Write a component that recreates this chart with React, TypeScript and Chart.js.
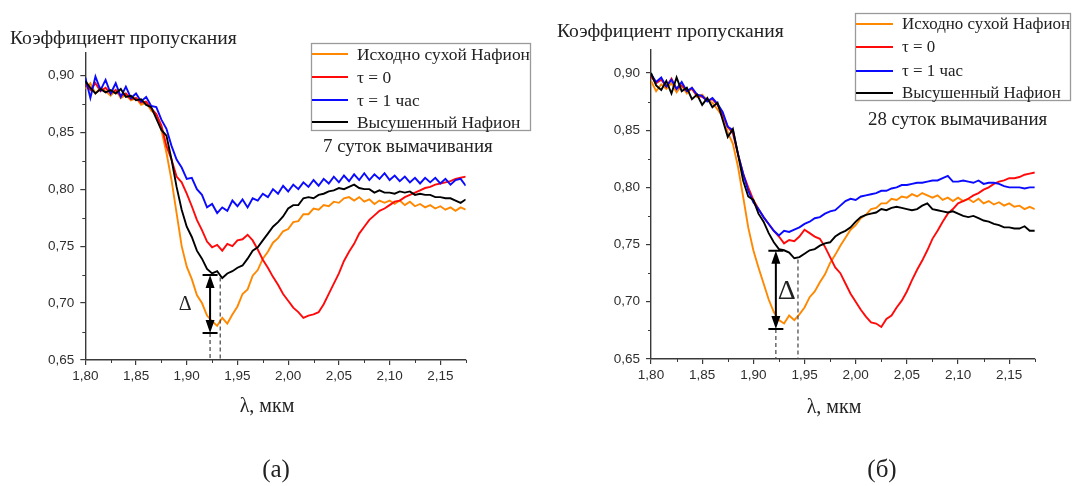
import React, { useEffect, useRef } from "react";
import { Chart, registerables } from "chart.js";

Chart.register(...registerables);

// Wavelength grid, мкм
const WAVELENGTH = [
  1.8, 1.805, 1.81, 1.815, 1.82, 1.825, 1.83, 1.835, 1.84, 1.845,
  1.85, 1.855, 1.86, 1.865, 1.87, 1.875, 1.88, 1.885, 1.89, 1.895,
  1.9, 1.905, 1.91, 1.915, 1.92, 1.925, 1.93, 1.935, 1.94, 1.945,
  1.95, 1.955, 1.96, 1.965, 1.97, 1.975, 1.98, 1.985, 1.99, 1.995,
  2.0, 2.005, 2.01, 2.015, 2.02, 2.025, 2.03, 2.035, 2.04, 2.045,
  2.05, 2.055, 2.06, 2.065, 2.07, 2.075, 2.08, 2.085, 2.09, 2.095,
  2.1, 2.105, 2.11, 2.115, 2.12, 2.125, 2.13, 2.135, 2.14, 2.145,
  2.15, 2.155, 2.16, 2.165, 2.17, 2.175,
];

// (а) 7 суток вымачивания
const A_DRY = [
  0.888, 0.893, 0.884, 0.889, 0.886, 0.882, 0.887, 0.88, 0.883, 0.878,
  0.88, 0.874, 0.876, 0.869, 0.865, 0.852, 0.832, 0.808, 0.779, 0.75,
  0.732, 0.721, 0.707, 0.7, 0.689, 0.684, 0.68, 0.687, 0.682, 0.69,
  0.697, 0.708, 0.712, 0.724, 0.729, 0.739, 0.745, 0.753, 0.757, 0.763,
  0.765, 0.771, 0.772, 0.778, 0.778, 0.783, 0.782, 0.786, 0.785, 0.789,
  0.788, 0.792, 0.793, 0.79, 0.793, 0.789, 0.791, 0.787, 0.79, 0.788,
  0.79, 0.787, 0.79, 0.786, 0.789, 0.785, 0.787, 0.784, 0.786, 0.783,
  0.785, 0.782, 0.784, 0.781, 0.784, 0.782,
];
const A_T0 = [
  0.892, 0.887, 0.893, 0.886, 0.889, 0.884, 0.887, 0.882, 0.884, 0.879,
  0.88, 0.876, 0.877, 0.871, 0.866, 0.856, 0.838, 0.826, 0.811, 0.806,
  0.796, 0.785, 0.773, 0.764, 0.754, 0.749, 0.751, 0.746, 0.752, 0.75,
  0.755, 0.756, 0.76, 0.755, 0.747, 0.738, 0.731, 0.723, 0.716, 0.708,
  0.702, 0.696, 0.692, 0.687, 0.689, 0.69, 0.692, 0.699, 0.708, 0.717,
  0.726, 0.737, 0.745, 0.752, 0.761, 0.767, 0.773, 0.777, 0.781, 0.783,
  0.786, 0.789, 0.79, 0.793, 0.795, 0.797, 0.799, 0.801, 0.802, 0.804,
  0.805, 0.806, 0.807, 0.809, 0.81, 0.811,
];
const A_T1 = [
  0.898, 0.88, 0.899, 0.887, 0.896, 0.884, 0.893, 0.881, 0.89, 0.88,
  0.884, 0.877, 0.881, 0.873, 0.872, 0.861, 0.853, 0.838, 0.826, 0.819,
  0.809, 0.81, 0.8, 0.795, 0.784, 0.787, 0.779, 0.784, 0.781, 0.79,
  0.785, 0.791, 0.784, 0.792, 0.79, 0.796, 0.793, 0.8, 0.796, 0.803,
  0.798, 0.804, 0.8, 0.806, 0.802, 0.808, 0.803, 0.809, 0.805, 0.811,
  0.806, 0.812, 0.807, 0.813, 0.808, 0.814, 0.808, 0.813, 0.809, 0.814,
  0.808, 0.812, 0.807, 0.811, 0.806, 0.81, 0.805, 0.81, 0.806, 0.81,
  0.805, 0.809, 0.804, 0.808, 0.809, 0.803,
];
const A_DRIED = [
  0.895, 0.889, 0.884, 0.888, 0.885, 0.887, 0.884, 0.888, 0.881, 0.882,
  0.878, 0.879, 0.874, 0.872, 0.862, 0.852, 0.847, 0.826, 0.802, 0.782,
  0.767, 0.758, 0.746, 0.739, 0.73, 0.726, 0.728, 0.722, 0.726, 0.728,
  0.731, 0.733, 0.739, 0.746, 0.749, 0.755, 0.761, 0.767, 0.771, 0.776,
  0.783, 0.786, 0.786, 0.792, 0.793, 0.792, 0.795, 0.796, 0.798, 0.799,
  0.801, 0.8, 0.802, 0.804, 0.801, 0.8, 0.8, 0.797, 0.799, 0.797,
  0.797, 0.796, 0.798, 0.797, 0.798, 0.795, 0.796, 0.795, 0.795, 0.793,
  0.793, 0.792, 0.792, 0.79, 0.788, 0.791,
];

// (б) 28 суток вымачивания
const B_DRY = [
  0.893, 0.884, 0.89, 0.886, 0.891, 0.883, 0.889, 0.882, 0.887, 0.879,
  0.881, 0.876, 0.874, 0.868, 0.862, 0.848, 0.838, 0.818, 0.792, 0.765,
  0.745, 0.73, 0.716, 0.702, 0.691, 0.684, 0.681, 0.688, 0.684, 0.689,
  0.695, 0.704, 0.709, 0.717, 0.724, 0.734, 0.741, 0.749, 0.756, 0.763,
  0.767, 0.773, 0.776, 0.781, 0.782, 0.786, 0.786, 0.79, 0.789, 0.792,
  0.791, 0.794, 0.792, 0.795, 0.793, 0.791, 0.793, 0.789, 0.791, 0.788,
  0.791, 0.788, 0.79, 0.787, 0.79, 0.786, 0.788, 0.785, 0.787, 0.784,
  0.786, 0.783, 0.784, 0.781, 0.783, 0.781,
];
const B_T0 = [
  0.897, 0.891, 0.894, 0.888, 0.895, 0.886, 0.889, 0.884, 0.886, 0.88,
  0.879, 0.876, 0.877, 0.872, 0.864, 0.853, 0.847, 0.829, 0.812, 0.8,
  0.789, 0.781, 0.774, 0.768, 0.762, 0.757, 0.751, 0.754, 0.753, 0.757,
  0.763, 0.76, 0.757, 0.755, 0.748, 0.739, 0.73, 0.725, 0.716, 0.707,
  0.7, 0.693, 0.687, 0.682, 0.681, 0.678, 0.685, 0.688, 0.695, 0.701,
  0.709, 0.719, 0.728, 0.736, 0.745, 0.755, 0.762, 0.77, 0.777, 0.781,
  0.786, 0.788, 0.79, 0.793, 0.795, 0.798, 0.8, 0.803, 0.805, 0.806,
  0.808, 0.808, 0.809, 0.811, 0.812, 0.813,
];
const B_T1 = [
  0.899, 0.892, 0.896, 0.888, 0.894, 0.886, 0.892, 0.884, 0.887, 0.881,
  0.88, 0.875, 0.878, 0.873, 0.866, 0.853, 0.85, 0.829, 0.812, 0.797,
  0.787, 0.781, 0.774, 0.768, 0.762, 0.758, 0.762, 0.761, 0.763, 0.765,
  0.768, 0.77, 0.773, 0.774, 0.777, 0.779, 0.78, 0.784, 0.788, 0.79,
  0.789, 0.792, 0.793, 0.794, 0.795, 0.797, 0.797, 0.799, 0.8, 0.802,
  0.802, 0.803, 0.804, 0.804, 0.805, 0.806, 0.806, 0.808, 0.81, 0.805,
  0.805, 0.806, 0.805, 0.804, 0.806, 0.803, 0.804, 0.804, 0.803, 0.801,
  0.8, 0.8, 0.8, 0.799, 0.8, 0.8,
];
const B_DRIED = [
  0.9, 0.889, 0.885, 0.893, 0.882, 0.896, 0.884, 0.887, 0.877, 0.881,
  0.872, 0.878, 0.87, 0.874, 0.859, 0.844, 0.851, 0.829, 0.806, 0.792,
  0.789, 0.777, 0.77, 0.76, 0.752, 0.746, 0.745, 0.743, 0.738, 0.739,
  0.742, 0.745, 0.746, 0.749, 0.751, 0.752, 0.757, 0.76, 0.762, 0.765,
  0.77, 0.774, 0.776, 0.777, 0.778, 0.781, 0.78, 0.782, 0.783, 0.782,
  0.781, 0.78, 0.781, 0.784, 0.786, 0.781, 0.78, 0.779, 0.778, 0.779,
  0.777, 0.775, 0.774, 0.775, 0.773, 0.771, 0.77, 0.768, 0.767, 0.765,
  0.765, 0.764, 0.764, 0.766, 0.762, 0.762,
];

const SERIES_NAMES = ["Исходно сухой Нафион", "τ = 0", "τ = 1 час", "Высушенный Нафион"];
const SERIES_COLORS = ["#ff8800", "#ff0a0a", "#0a0aff", "#000000"];

const X_TICKS = [1.8, 1.85, 1.9, 1.95, 2.0, 2.05, 2.1, 2.15];
const X_MINOR = [1.825, 1.875, 1.925, 1.975, 2.025, 2.075, 2.125, 2.175];
const Y_TICKS = [0.65, 0.7, 0.75, 0.8, 0.85, 0.9];
const Y_MINOR = [0.675, 0.725, 0.775, 0.825, 0.875];

// Δ marker: arrow λ, upper level, lower level, second dashed λ, its upper end
const DELTA_A = [1.923, 0.7246, 0.6737, 1.933, 0.7225];
const DELTA_B = [1.922, 0.7446, 0.6762, 1.9436, 0.737];

const AXIS_COLOR = "#3a3a3a";
const SERIF = "'Liberation Serif', 'Times New Roman', serif";
const SANS = "'Liberation Sans', Arial, sans-serif";

type PanelLayout = {
  width: number;
  yAxisWidth: number;
  xAxisHeight: number;
  padTop: number;
  padRight: number;
  titleX: number;
  titleY: number;
  xTitleX: number;
  xTitleY: number;
  tagX: number;
  tagY: number;
  tag: string;
  legendBox: [number, number, number, number];
  legendRows: number[];
  legendLine: [number, number];
  legendTextX: number;
  legendFont: number;
  caption: string;
  captionX: number;
  captionY: number;
  delta: number[];
  deltaDx: number;
  deltaY: number;
  deltaFont: number;
};

const fmt = (v: number) => v.toFixed(2).replace(".", ",");

const overlayPlugin = {
  id: "overlay",
  afterDraw(chart: any, _args: any, opts: PanelLayout) {
    const { ctx, chartArea } = chart;
    const xs = chart.scales.x;
    const ys = chart.scales.y;
    ctx.save();

    // minor ticks
    ctx.strokeStyle = AXIS_COLOR;
    ctx.lineWidth = 1;
    ctx.beginPath();
    X_MINOR.forEach((v) => {
      const px = Math.round(xs.getPixelForValue(v)) + 0.5;
      ctx.moveTo(px, chartArea.bottom);
      ctx.lineTo(px, chartArea.bottom + 3);
    });
    Y_MINOR.forEach((v) => {
      const py = Math.round(ys.getPixelForValue(v)) + 0.5;
      ctx.moveTo(chartArea.left, py);
      ctx.lineTo(chartArea.left - 3, py);
    });
    ctx.stroke();

    // Δ marker
    const [dl, dTop, dBot, dl2, dTop2] = opts.delta;
    const ax = xs.getPixelForValue(dl);
    const yTop = ys.getPixelForValue(dTop);
    const yBot = ys.getPixelForValue(dBot);
    const ax2 = xs.getPixelForValue(dl2);
    const yTop2 = ys.getPixelForValue(dTop2);
    const yAxis = ys.getPixelForValue(0.65);

    ctx.strokeStyle = "#444";
    ctx.lineWidth = 1.2;
    ctx.setLineDash([4, 3]);
    ctx.beginPath();
    ctx.moveTo(ax, yBot);
    ctx.lineTo(ax, yAxis);
    ctx.moveTo(ax2, yTop2);
    ctx.lineTo(ax2, yAxis);
    ctx.stroke();
    ctx.setLineDash([]);

    ctx.strokeStyle = "#000";
    ctx.fillStyle = "#000";
    ctx.lineWidth = 2;
    ctx.beginPath();
    ctx.moveTo(ax, yTop + 8);
    ctx.lineTo(ax, yBot - 8);
    ctx.moveTo(ax - 7.5, yTop);
    ctx.lineTo(ax + 7.5, yTop);
    ctx.moveTo(ax - 7.5, yBot);
    ctx.lineTo(ax + 7.5, yBot);
    ctx.stroke();
    ctx.beginPath();
    ctx.moveTo(ax, yTop);
    ctx.lineTo(ax - 4.5, yTop + 13);
    ctx.lineTo(ax + 4.5, yTop + 13);
    ctx.closePath();
    ctx.moveTo(ax, yBot);
    ctx.lineTo(ax - 4.5, yBot - 13);
    ctx.lineTo(ax + 4.5, yBot - 13);
    ctx.closePath();
    ctx.fill();

    ctx.fillStyle = "#222";
    ctx.font = `${opts.deltaFont}px ${SERIF}`;
    ctx.textAlign = "center";
    ctx.textBaseline = "middle";
    ctx.fillText("Δ", ax + opts.deltaDx, ys.getPixelForValue(opts.deltaY));

    // legend
    const [bx0, by0, bx1, by1] = opts.legendBox;
    ctx.strokeStyle = "#9a9a9a";
    ctx.lineWidth = 1.3;
    ctx.strokeRect(bx0 + 0.5, by0 + 0.5, bx1 - bx0, by1 - by0);
    ctx.font = `${opts.legendFont}px ${SERIF}`;
    ctx.textAlign = "left";
    chart.data.datasets.forEach((ds: any, i: number) => {
      const ry = opts.legendRows[i];
      ctx.strokeStyle = ds.borderColor;
      ctx.lineWidth = 2.2;
      ctx.beginPath();
      ctx.moveTo(opts.legendLine[0], ry);
      ctx.lineTo(opts.legendLine[1], ry);
      ctx.stroke();
      ctx.fillStyle = "#222";
      ctx.fillText(ds.label, opts.legendTextX, ry + 1);
    });

    ctx.font = `18.9px ${SERIF}`;
    ctx.fillText(opts.caption, opts.captionX, opts.captionY);

    // axis titles
    ctx.font = `19.6px ${SERIF}`;
    ctx.fillText("Коэффициент пропускания", opts.titleX, opts.titleY);
    ctx.textAlign = "center";
    ctx.font = `20px ${SERIF}`;
    ctx.fillText("λ, мкм", opts.xTitleX, opts.xTitleY);
    ctx.font = `25px ${SERIF}`;
    ctx.fillText(opts.tag, opts.tagX, opts.tagY);

    ctx.restore();
  },
};

function makeConfig(series: number[][], layout: PanelLayout): any {
  const order = [3, 2, 1, 0];
  return {
    type: "line",
    data: {
      datasets: series.map((vals, i) => ({
        label: SERIES_NAMES[i],
        data: WAVELENGTH.map((x, j) => ({ x, y: vals[j] })),
        borderColor: SERIES_COLORS[i],
        borderWidth: 1.9,
        pointRadius: 0,
        tension: 0,
        fill: false,
        order: order[i],
      })),
    },
    options: {
      responsive: false,
      devicePixelRatio: 1,
      animation: false,
      layout: { padding: { top: layout.padTop, right: layout.padRight, left: 0, bottom: 0 } },
      plugins: {
        legend: { display: false },
        title: { display: false },
        tooltip: { enabled: false },
        overlay: layout,
      },
      scales: {
        x: {
          type: "linear",
          min: 1.8,
          max: 2.175,
          afterBuildTicks: (s: any) => {
            s.ticks = X_TICKS.map((value) => ({ value }));
          },
          afterFit: (s: any) => {
            s.height = layout.xAxisHeight;
          },
          ticks: {
            callback: (v: number) => fmt(v),
            font: { family: SANS, size: 13.5 },
            color: "#2e2e2e",
            padding: 3,
            maxRotation: 0,
            autoSkip: false,
          },
          grid: {
            display: true,
            drawOnChartArea: false,
            drawTicks: true,
            tickLength: 5,
            color: AXIS_COLOR,
            lineWidth: 1.2,
          },
          border: { display: true, color: AXIS_COLOR, width: 1.4 },
        },
        y: {
          type: "linear",
          min: 0.65,
          max: 0.92,
          afterBuildTicks: (s: any) => {
            s.ticks = Y_TICKS.map((value) => ({ value }));
          },
          afterFit: (s: any) => {
            s.width = layout.yAxisWidth;
          },
          ticks: {
            callback: (v: number) => fmt(v),
            font: { family: SANS, size: 13.5 },
            color: "#2e2e2e",
            padding: 6,
            autoSkip: false,
          },
          grid: {
            display: true,
            drawOnChartArea: false,
            drawTicks: true,
            tickLength: 5,
            color: AXIS_COLOR,
            lineWidth: 1.2,
          },
          border: { display: true, color: AXIS_COLOR, width: 1.4 },
        },
      },
    },
    plugins: [overlayPlugin],
  };
}

const LAYOUT_A: PanelLayout = {
  width: 540,
  yAxisWidth: 85.3,
  xAxisHeight: 126,
  padTop: 52.5,
  padRight: 74.3,
  titleX: 10,
  titleY: 39,
  xTitleX: 267,
  xTitleY: 407,
  tagX: 276,
  tagY: 470,
  tag: "(а)",
  legendBox: [311, 43, 530, 130],
  legendRows: [54, 77, 100, 122],
  legendLine: [312, 348],
  legendTextX: 357,
  legendFont: 17.4,
  caption: "7 суток вымачивания",
  captionX: 323,
  captionY: 147,
  delta: DELTA_A,
  deltaDx: -25,
  deltaY: 0.6983,
  deltaFont: 20,
};

const LAYOUT_B: PanelLayout = {
  width: 539,
  yAxisWidth: 111,
  xAxisHeight: 127,
  padTop: 50,
  padRight: 44.2,
  titleX: 17,
  titleY: 32,
  xTitleX: 294,
  xTitleY: 408,
  tagX: 342,
  tagY: 470,
  tag: "(б)",
  legendBox: [315, 13, 530, 100],
  legendRows: [24, 47, 71, 93],
  legendLine: [316, 353],
  legendTextX: 362,
  legendFont: 16.9,
  caption: "28 суток вымачивания",
  captionX: 328,
  captionY: 120,
  delta: DELTA_B,
  deltaDx: 11,
  deltaY: 0.7085,
  deltaFont: 28,
};

function Panel({ series, layout, left }: { series: number[][]; layout: PanelLayout; left: number }) {
  const ref = useRef<HTMLCanvasElement>(null);
  useEffect(() => {
    if (!ref.current) return;
    const chart = new Chart(ref.current, makeConfig(series, layout));
    return () => chart.destroy();
  }, [series, layout]);
  return (
    <canvas
      ref={ref}
      width={layout.width}
      height={486}
      style={{ position: "absolute", left, top: 0, width: layout.width, height: 486 }}
    />
  );
}

const SERIES_A = [A_DRY, A_T0, A_T1, A_DRIED];
const SERIES_B = [B_DRY, B_T0, B_T1, B_DRIED];

export default function App() {
  return (
    <div style={{ position: "fixed", left: 0, top: 0, width: 1079, height: 486, background: "#fff" }}>
      <Panel series={SERIES_A} layout={LAYOUT_A} left={0} />
      <Panel series={SERIES_B} layout={LAYOUT_B} left={540} />
    </div>
  );
}
